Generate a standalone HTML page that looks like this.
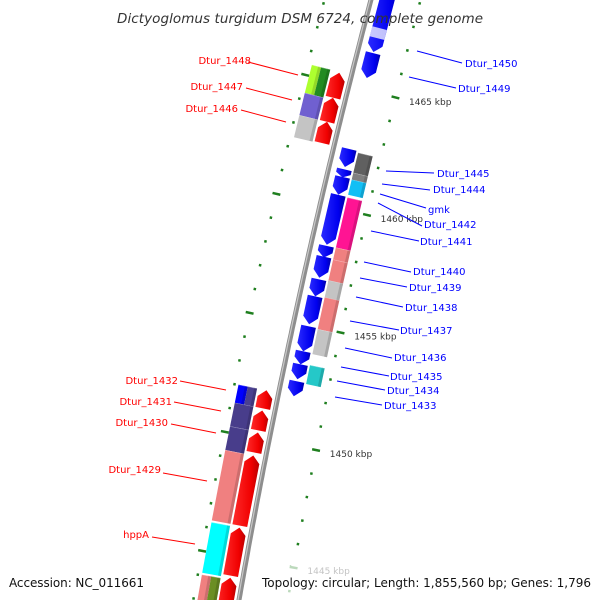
<!DOCTYPE html>
<html><head><meta charset="utf-8"><style>
html,body{margin:0;padding:0;background:#fff;width:600px;height:600px;overflow:hidden;position:relative;}
svg{display:block;font-family:"DejaVu Sans","Liberation Sans",sans-serif;}
</style></head><body>
<svg id="map" width="600" height="600" viewBox="0 0 600 600" style="position:absolute;left:0;top:0">
<defs>
<linearGradient id="gRed" x1="0" x2="1" y1="0" y2="0"><stop offset="0" stop-color="#ff2a2a"/><stop offset="0.7" stop-color="#f00000"/><stop offset="1" stop-color="#b80000"/></linearGradient>
<linearGradient id="gBlue" x1="0" x2="1" y1="0" y2="0"><stop offset="0" stop-color="#2a2aff"/><stop offset="0.7" stop-color="#0000ee"/><stop offset="1" stop-color="#0000a8"/></linearGradient>
</defs>
<g id="backbone"></g><g id="ticks"></g><g id="feats"></g><g id="labels"></g>
</svg>
<script>
// ---- data (kbp) ----
const tickKbp = [1443,1444,1445,1446,1447,1448,1449,1450,1451,1452,1453,1454,1455,1456,1457,1458,1459,1460,1461,1462,1463,1464,1465,1466,1467,1468,1469,1470];
const redStart = [1464.37,1463.35,1462.46,1451.26,1450.33,1449.40,1446.31,1444.20,1442.29];
const redEnd   = [1465.42,1464.37,1463.35,1452.02,1451.17,1450.24,1449.27,1446.23,1444.11];
const blueStart = [1466.59,1465.49,1461.72,1461.28,1460.54,1458.43,1457.88,1457.03,1456.24,1455.06,1453.91,1453.36,1452.73,1452.01];
const blueEnd   = [1469.70,1466.54,1462.48,1461.62,1461.30,1460.54,1458.38,1457.92,1456.96,1456.24,1454.97,1453.91,1453.36,1452.64];
const boxStart = [1461.57,1461.28,1460.64,1458.40,1457.89,1456.92,1454.94,1453.88,1452.61,1464.28,1464.28,1463.35,1462.42,1451.26,1451.26,1450.27,1449.27,1446.31,1444.11,1442.0,1442.0];
const boxEnd   = [1462.42,1461.57,1461.28,1460.52,1458.40,1457.89,1456.29,1454.94,1453.41,1465.46,1465.46,1464.28,1463.35,1452.02,1452.02,1451.26,1450.27,1449.27,1446.23,1444.03,1444.03];
const boxColor = ["#606060","#808080","#12bff5","#ff1493","#f08080","#f08080","#f08080","#c4c4c4","#25c8c8","#adff2f","#228b22","#7060d0","#c4c4c4","#0000ff","#4a4090","#483d8b","#483d8b","#f08080","#00ffff","#f08080","#6b8e23"];
const boxLane  = ["R","R","R","R","R","R","R","R","R","Lo","Li","L","L","Lo","Li","L","L","L","L","Lo","Li"];
const greyStart = [1456.29];
const greyEnd   = [1457.01];

function X(y){return 374-0.263*y+7.18e-5*y*y;}
function dX(y){return -0.263+1.436e-4*y;}
function yt(k){return 98+(1465-k)*23.65;}
function P(k,d){const yl=yt(k)-11.5;const s=dX(yl);const n=Math.hypot(1,s);return [X(yl)+d/n, yl-d*s/n];}
const NS="http://www.w3.org/2000/svg";
function poly(g,pts,fill){const p=document.createElementNS(NS,'polygon');p.setAttribute('points',pts.map(q=>q[0].toFixed(1)+','+q[1].toFixed(1)).join(' '));p.setAttribute('fill',fill);g.appendChild(p);return p;}
function pathLine(g,d,k1,k2,stroke,w){let s='';for(let k=k1;k<=k2+1e-9;k+=0.25){const q=P(k,d);s+=(s?'L':'M')+q[0].toFixed(1)+','+q[1].toFixed(1);}const p=document.createElementNS(NS,'path');p.setAttribute('d',s);p.setAttribute('stroke',stroke);p.setAttribute('stroke-width',w);p.setAttribute('fill','none');g.appendChild(p);return p;}

const bb=document.getElementById('backbone');
const b1=pathLine(bb,-3,1441,1471,'#8e8e8e',5);


const b2=pathLine(bb,-4,1441,1471,'#c8c8c8',1.2);



const tg=document.getElementById('ticks');
tickKbp.forEach(k=>{
  const long=k%5===0;
  [45,-48].forEach(d=>{
    const L=long?8:2.5;const a=P(k,d-L/2),b=P(k,d+L/2);
    const l=document.createElementNS(NS,'line');
    l.setAttribute('x1',a[0]);l.setAttribute('y1',a[1]);l.setAttribute('x2',b[0]);l.setAttribute('y2',b[1]);
    l.setAttribute('stroke','#1f7f1f');l.setAttribute('stroke-width',2.5);
    
    
    tg.appendChild(l);
  });
  if(long){
    const q=P(k,59);const t=document.createElementNS(NS,'text');
    t.setAttribute('x',q[0].toFixed(1));t.setAttribute('y',(q[1]+4).toFixed(1));
    t.setAttribute('font-size','9');t.setAttribute('fill','#333');
    t.textContent=k+' kbp';
    
    
    tg.appendChild(t);
  }
});

const fg=document.getElementById('feats');
function box(k1,k2,d1,d2,color){
  const p=poly(fg,[P(k1,d1),P(k1,d2),P(k2,d2),P(k2,d1)],color);
  poly(fg,[P(k1,d2-3),P(k1,d2),P(k2,d2),P(k2,d2-3)],'rgba(0,0,0,0.15)');
  poly(fg,[P(k2-0.02,d1),P(k2-0.02,d2),P(k2,d2),P(k2,d1)],'rgba(255,255,255,0.35)');
  return p;
}
const lanes={R:[22,37],L:[-44,-25],Lo:[-44,-34.5],Li:[-34.5,-25]};
boxStart.forEach((s,i)=>{
  const ln=lanes[boxLane[i]];
  const p=box(s,boxEnd[i],ln[0],ln[1],boxColor[i]);
  
  
});
greyStart.forEach((s,i)=>{
  const p=box(s,greyEnd[i],22,37,'#c4c4c4');
  
  
});
redStart.forEach((s,i)=>{
  const e=redEnd[i];const h=Math.min(0.3,(e-s)*0.5);const d1=-23,d2=-8,dm=-15.5;
  const p=poly(fg,[P(s,d1),P(s,d2),P(e-h,d2),P(e,dm),P(e-h,d1)],'url(#gRed)');
  
  
});
blueStart.forEach((s,i)=>{
  const e=blueEnd[i];const h=Math.min(0.3,(e-s)*0.5);const d1=5,d2=20,dm=12.5;
  const p=poly(fg,[P(e,d1),P(e,d2),P(s+h,d2),P(s,dm),P(s+h,d1)],'url(#gBlue)');
  
  
});
const lb=poly(fg,[P(1467.18,5),P(1467.18,20),P(1467.60,20),P(1467.60,5)],'rgba(255,255,255,0.75)');


</script>
<svg width="600" height="600" style="position:absolute;left:0;top:0">
<g font-family="DejaVu Sans, Liberation Sans, sans-serif" font-size="10" fill="#0000ff" stroke-width="1">
<g>
<line x1="417" y1="51" x2="462" y2="63" stroke="#0000ff"/><text x="465" y="67">Dtur_1450</text>
<line x1="409" y1="77" x2="456" y2="88" stroke="#0000ff"/><text x="458" y="92">Dtur_1449</text>
<line x1="386" y1="171" x2="434" y2="173" stroke="#0000ff"/><text x="437" y="177">Dtur_1445</text>
<line x1="382" y1="184" x2="430" y2="190" stroke="#0000ff"/><text x="433" y="193">Dtur_1444</text>
<line x1="380" y1="194" x2="426" y2="208" stroke="#0000ff"/><text x="428" y="213">gmk</text>
<line x1="378" y1="203" x2="422" y2="226" stroke="#0000ff"/><text x="424" y="228">Dtur_1442</text>
<line x1="371" y1="231" x2="419" y2="241" stroke="#0000ff"/><text x="420" y="245">Dtur_1441</text>
<line x1="364" y1="262" x2="411" y2="272" stroke="#0000ff"/><text x="413" y="275">Dtur_1440</text>
<line x1="360" y1="278" x2="407" y2="287" stroke="#0000ff"/><text x="409" y="291">Dtur_1439</text>
<line x1="356" y1="297" x2="403" y2="307" stroke="#0000ff"/><text x="405" y="311">Dtur_1438</text>
<line x1="350" y1="321" x2="399" y2="330" stroke="#0000ff"/><text x="400" y="334">Dtur_1437</text>
<line x1="345" y1="348" x2="392" y2="358" stroke="#0000ff"/><text x="394" y="361">Dtur_1436</text>
<line x1="341" y1="367" x2="389" y2="376" stroke="#0000ff"/><text x="390" y="380">Dtur_1435</text>
<line x1="337" y1="381" x2="385" y2="390" stroke="#0000ff"/><text x="387" y="394">Dtur_1434</text>
<line x1="335" y1="397" x2="382" y2="405" stroke="#0000ff"/><text x="384" y="409">Dtur_1433</text>
</g>
<g fill="#ff0000" text-anchor="end">
<line x1="248" y1="62" x2="298" y2="75" stroke="#ff0000"/><text x="251" y="64">Dtur_1448</text>
<line x1="246" y1="88" x2="292" y2="100" stroke="#ff0000"/><text x="243" y="90">Dtur_1447</text>
<line x1="241" y1="110" x2="286" y2="122" stroke="#ff0000"/><text x="238" y="112">Dtur_1446</text>
<line x1="180" y1="381" x2="226" y2="390" stroke="#ff0000"/><text x="178" y="384">Dtur_1432</text>
<line x1="174" y1="402" x2="221" y2="411" stroke="#ff0000"/><text x="172" y="405">Dtur_1431</text>
<line x1="171" y1="424" x2="216" y2="433" stroke="#ff0000"/><text x="168" y="426">Dtur_1430</text>
<line x1="163" y1="473" x2="207" y2="481" stroke="#ff0000"/><text x="161" y="473">Dtur_1429</text>
<line x1="152" y1="537" x2="195" y2="544" stroke="#ff0000"/><text x="149" y="538">hppA</text>
</g>
</g>
<text x="300" y="23" text-anchor="middle" font-family="DejaVu Sans, Liberation Sans, sans-serif" font-style="italic" font-size="13.5" fill="#333" textLength="366">Dictyoglomus turgidum DSM 6724, complete genome</text>
<rect x="4" y="568" width="146" height="30" fill="rgba(255,255,255,0.7)"/>
<rect x="256" y="566" width="340" height="32" fill="rgba(255,255,255,0.7)"/>
<text x="9" y="587" font-family="DejaVu Sans, Liberation Sans, sans-serif" font-size="12" fill="#111" textLength="135">Accession: NC_011661</text>
<text x="262" y="587" font-family="DejaVu Sans, Liberation Sans, sans-serif" font-size="12" fill="#111" textLength="329">Topology: circular; Length: 1,855,560 bp; Genes: 1,796</text>
</svg>
</body></html>
